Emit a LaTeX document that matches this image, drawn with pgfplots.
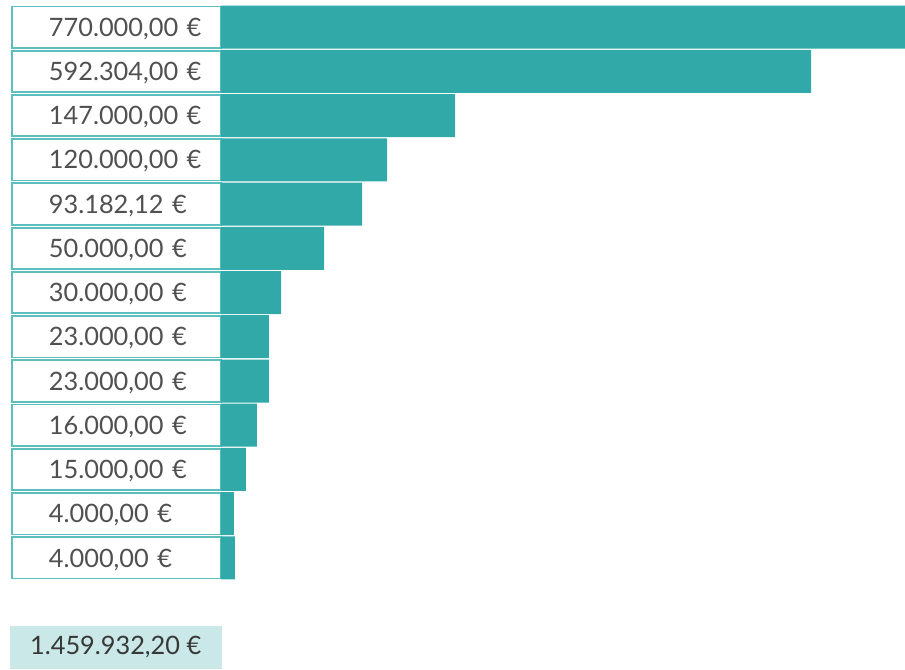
\documentclass[border=0pt]{standalone}
\usepackage{pgfplots}
\pgfplotsset{compat=1.18}
\usepackage{fontspec}
\setmainfont{Lato}
\definecolor{barc}{HTML}{30A9A8}
\definecolor{boxc}{HTML}{5CBFBE}
\definecolor{totc}{HTML}{C9E8E7}
\definecolor{txtc}{HTML}{505050}
\begin{document}
\begin{tikzpicture}
\begin{axis}[
  name=ax,
  scale only axis,
  width=513pt, height=501.75pt,
  xmin=0, xmax=684,
  ymin=0, ymax=669,
  y dir=reverse,
  clip=false,
  axis line style={draw=none},
  xtick=\empty,
  ytick={27.1,71.3,115.6,159.8,204.0,248.3,292.5,336.7,381.0,425.2,469.4,513.7,557.9},
  yticklabels={{770.000,00 €},{592.304,00 €},{147.000,00 €},{120.000,00 €},{93.182,12 €},{50.000,00 €},{30.000,00 €},{23.000,00 €},{23.000,00 €},{16.000,00 €},{15.000,00 €},{4.000,00 €},{4.000,00 €}},
  major tick length=0pt,
  yticklabel style={anchor=east, draw=boxc, line width=1.3pt, fill=white,
    inner sep=0pt, outer sep=0pt, text width=157pt, minimum height=31pt, align=left,
    text depth=0pt,
    font=\fontsize{19}{22}\selectfont, text=txtc,
    execute at begin node={\hspace*{28pt}}},
]
\addplot[xbar, fill=barc, draw=none, bar width=43, bar shift=0pt] coordinates {
  (684,27.1) (590,71.3) (234,115.6) (166,159.8) (141,204.0) (103,248.3)
  (60,292.5) (48,336.7) (48,381.0) (36,425.2) (25,469.4) (13,513.7) (14,557.9)};
\node[anchor=east, fill=totc, inner sep=0pt, minimum width=159pt, minimum height=32.25pt,
  font=\fontsize{19}{22}\selectfont, text=black!78] at (axis cs:1,647.5) {1.459.932,20 €};
\end{axis}
\pgfresetboundingbox
\path ([xshift=-165.75pt]ax.south west) rectangle (ax.north east);
\end{tikzpicture}
\end{document}
